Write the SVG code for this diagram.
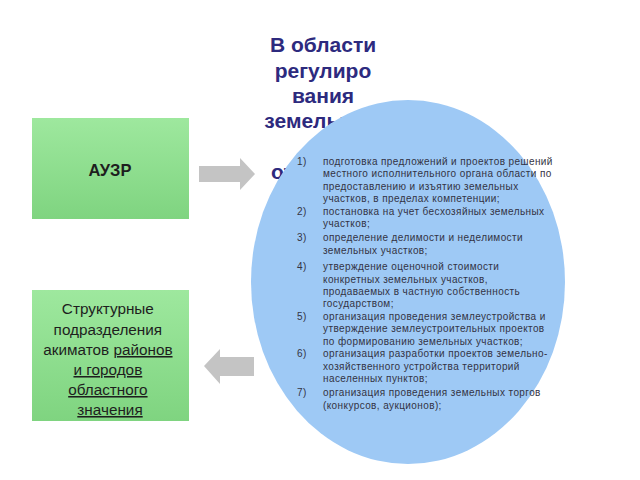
<svg xmlns="http://www.w3.org/2000/svg" width="640" height="480" viewBox="0 0 640 480">
<defs>
<linearGradient id="g" x1="0" y1="0" x2="0" y2="1">
<stop offset="0" stop-color="#9ee89e"/>
<stop offset="1" stop-color="#7fd480"/>
</linearGradient>
<style>
.box{fill:url(#g);}
.title{font-family:"Liberation Sans",Arial,sans-serif;font-weight:bold;font-size:21px;fill:#2d2a7e;text-anchor:middle;}
.lbl{font-family:"Liberation Sans",Arial,sans-serif;fill:#1e1e1e;text-anchor:middle;}
.li{font-family:"Liberation Sans",Arial,sans-serif;font-size:10px;letter-spacing:0.4px;fill:#333344;}
.arrow{fill:#c4c4c4;}
</style>
</defs>
<rect width="640" height="480" fill="#ffffff"/>
<g id="title">
<text class="title" x="323" y="52">В области</text>
<text class="title" x="323" y="78">регулиро</text>
<text class="title" x="323" y="103">вания</text>
<text class="title" x="323" y="128">земельных</text>
<text class="title" x="329" y="179">отношений</text>
</g>
<g id="auzr">
<rect class="box" x="32" y="118" width="157" height="101"/>
<text class="lbl" x="110" y="176" font-size="16.5" font-weight="bold">АУЗР</text>
</g>
<g id="struct">
<rect class="box" x="32" y="290" width="157" height="131"/>
<text class="lbl" font-size="15.3">
<tspan x="110" y="314">Структурные</tspan>
<tspan x="110" y="335">подразделения</tspan>
<tspan x="110" y="355">акиматов <tspan text-decoration="underline">районов</tspan></tspan>
<tspan x="110" y="375" text-decoration="underline">и городов</tspan>
<tspan x="110" y="395" text-decoration="underline">областного</tspan>
<tspan x="110" y="415" text-decoration="underline">значения</tspan>
</text>
</g>
<g id="connectors">
<polygon class="arrow" points="199,166 240,166 240,158 255,174 240,190 240,182 199,182"/>
<polygon class="arrow" points="254,357 220,357 220,349 204,366 220,384 220,376 254,376"/>
</g>
<g id="functions">
<ellipse cx="408" cy="282" rx="157" ry="182" fill="#9ec9f5"/>
<text class="li">
<tspan x="297" y="164.5">1)</tspan>
<tspan x="323" y="164.5">подготовка предложений и проектов решений</tspan>
<tspan x="323" y="177">местного исполнительного органа области по</tspan>
<tspan x="323" y="189.5">предоставлению и изъятию земельных</tspan>
<tspan x="323" y="202">участков, в пределах компетенции;</tspan>
<tspan x="297" y="214.5">2)</tspan>
<tspan x="323" y="214.5">постановка на учет бесхозяйных земельных</tspan>
<tspan x="323" y="227">участков;</tspan>
<tspan x="297" y="240.5">3)</tspan>
<tspan x="323" y="240.5">определение делимости и неделимости</tspan>
<tspan x="323" y="253.5">земельных участков;</tspan>
<tspan x="297" y="269.5">4)</tspan>
<tspan x="323" y="269.5">утверждение оценочной стоимости</tspan>
<tspan x="323" y="282.5">конкретных земельных участков,</tspan>
<tspan x="323" y="294.5">продаваемых в частную собственность</tspan>
<tspan x="323" y="306.5">государством;</tspan>
<tspan x="297" y="319.5">5)</tspan>
<tspan x="323" y="319.5">организация проведения землеустройства и</tspan>
<tspan x="323" y="331.5">утверждение землеустроительных проектов</tspan>
<tspan x="323" y="344.5">по формированию земельных участков;</tspan>
<tspan x="297" y="356.5">6)</tspan>
<tspan x="323" y="356.5">организация разработки проектов земельно-</tspan>
<tspan x="323" y="369.5">хозяйственного устройства территорий</tspan>
<tspan x="323" y="381.5">населенных пунктов;</tspan>
<tspan x="297" y="395.5">7)</tspan>
<tspan x="323" y="395.5">организация проведения земельных торгов</tspan>
<tspan x="323" y="408.5">(конкурсов, аукционов);</tspan>
</text>
</g>
</svg>
